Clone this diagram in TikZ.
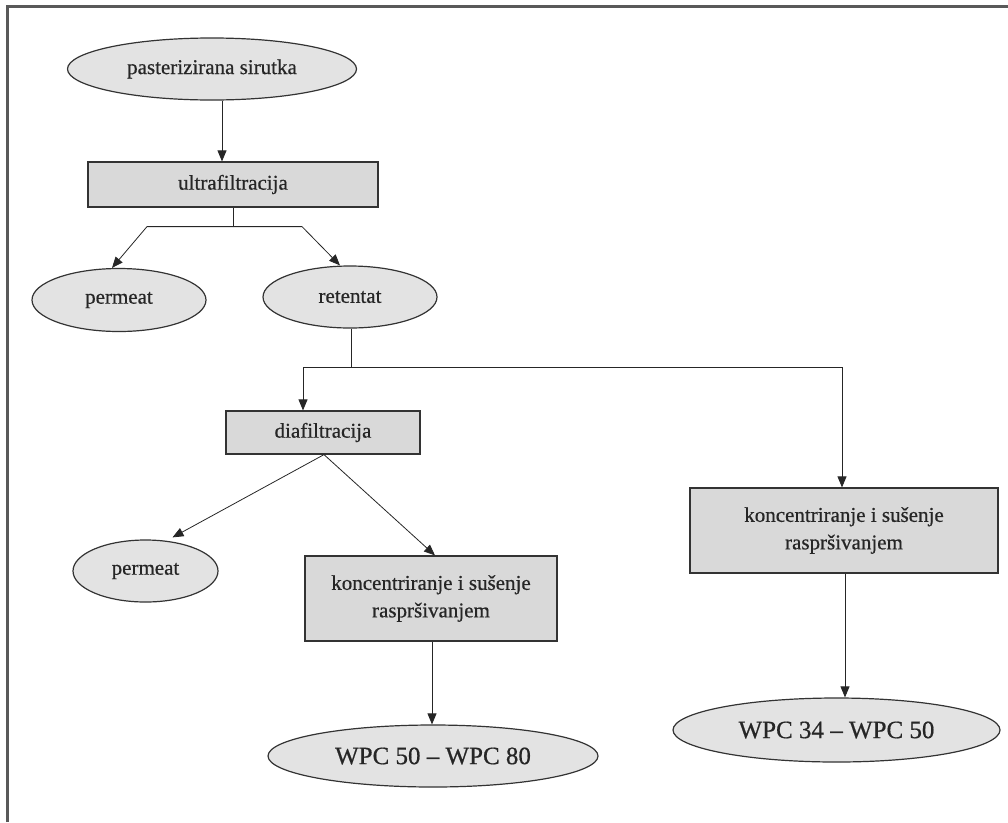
\documentclass[tikz,border=0pt]{standalone}
\usepackage{fontspec}
\setmainfont[FakeBold=0.6]{Liberation Serif}
\usepackage{xcolor}
\usetikzlibrary{shapes.geometric,arrows.meta}

\begin{document}
\begin{tikzpicture}[x=1pt,y=1pt,yscale=-1,xscale=1,
  oval/.style={ellipse,draw=black!80,line width=1.2pt,fill=gray!22,inner sep=0pt,text=black!85,font=\fontsize{21}{27}\selectfont},
  bigoval/.style={oval,font=\fontsize{25}{30}\selectfont},
  stepbox/.style={rectangle,draw=black!80,line width=1.2pt,fill=gray!30,inner sep=0pt,align=center,text=black!85,font=\fontsize{21}{27.5}\selectfont},
  link/.style={draw=black!85,line width=0.8pt},
  arr/.style={link,-{Triangle[length=11pt,width=9pt]}}]
\useasboundingbox (0,0) rectangle (1008,822);

% frame
\draw [line width=3pt,color=black!65] (7,822) -- (7,6) -- (1008,6);

% Text Node
\node [oval,minimum width=289,minimum height=62] (sirutka) at (212,69) {pasterizirana sirutka};
% Text Node
\node [stepbox,minimum width=290,minimum height=45] (ultra) at (233,184.5) {ultrafiltracija};
% Text Node
\node [oval,minimum width=174,minimum height=63] (perm1) at (119,300) {permeat};
% Text Node
\node [oval,minimum width=174,minimum height=62] (ret) at (350,297) {retentat};
% Text Node
\node [stepbox,minimum width=194,minimum height=43] (dia) at (323,432.5) {diafiltracija};
% Text Node
\node [oval,minimum width=145,minimum height=62] (perm2) at (145.5,571) {permeat};
% Text Node
\node [stepbox,minimum width=252,minimum height=85] (konc1) at (431,598.5) {koncentriranje i sušenje\\raspršivanjem};
% Text Node
\node [bigoval,minimum width=330,minimum height=62] (wpc1) at (433,756) {WPC 50 -- WPC 80};
% Text Node
\node [stepbox,minimum width=308,minimum height=85] (konc2) at (844,530.5) {koncentriranje i sušenje\\raspršivanjem};
% Text Node
\node [bigoval,minimum width=327,minimum height=64] (wpc2) at (836.5,730) {WPC 34 -- WPC 50};

% connectors
\draw [arr] ([xshift=10pt]sirutka.south) -- ([xshift=-11pt]ultra.north);
\draw [link] (ultra.south) -- ++(0,19) coordinate (ufsplit);
\draw [arr] (ufsplit) -- ++(-86,0) -- ([xshift=-7pt]perm1.north);
\draw [arr] (ufsplit) -- ++(69,0) -- ([xshift=-10pt]ret.north);
\draw [link] ([xshift=1pt]ret.south) -- ++(0,39) coordinate (retsplit);
\draw [arr] (retsplit) -| ([xshift=-20pt]dia.north);
\draw [arr] (retsplit) -| ([xshift=-2pt]konc2.north);
\draw [arr] ([xshift=1pt]dia.south) -- ([xshift=27pt,yshift=-2pt]perm2.north);
\draw [arr] ([xshift=1pt]dia.south) -- ([xshift=4pt]konc1.north);
\draw [arr] ([xshift=1pt]konc1.south) -- ([xshift=1pt]konc1.south |- wpc1.north);
\draw [arr] ([xshift=1pt]konc2.south) -- ([xshift=1pt]konc2.south |- wpc2.north);

\end{tikzpicture}
\end{document}
